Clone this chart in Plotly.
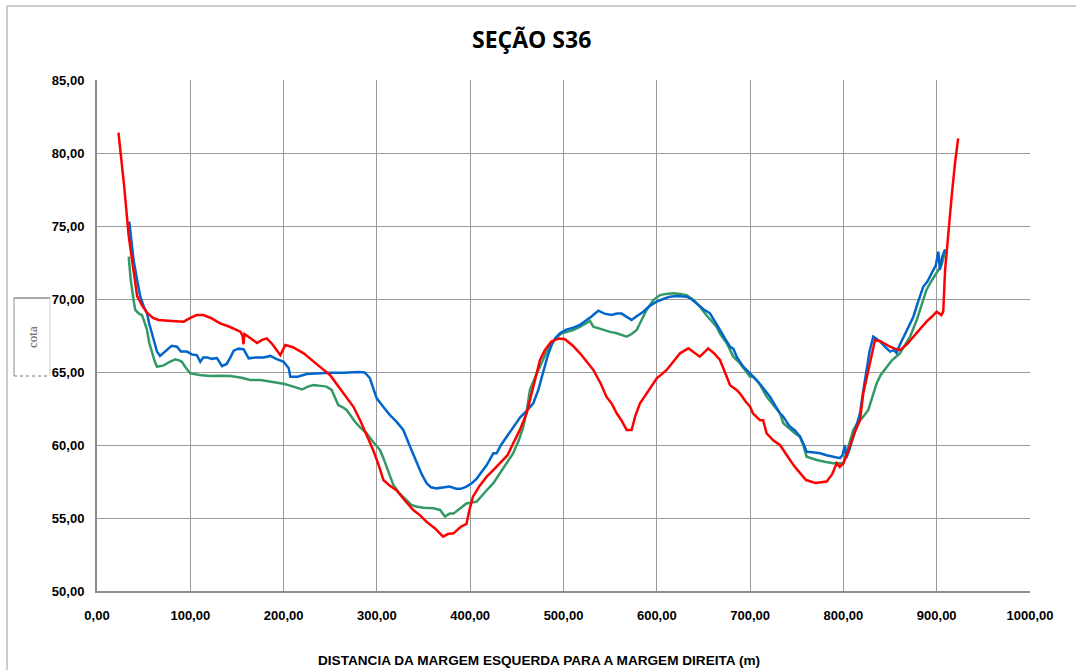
import plotly.graph_objects as go

# ---------------- data ----------------
red_x = [23, 29, 34, 38, 43, 48, 53.6, 60, 66, 80, 92.9, 100, 107, 114, 122, 132, 142, 153.6, 156, 157, 158, 165,
         171.5, 177, 182, 188, 196.5, 201.8, 210, 221.5, 232, 240, 249.7, 258, 267.6, 275, 282, 290, 296, 302, 307,
         314, 321, 330, 339, 346, 353, 362, 371, 376, 382, 390, 396, 399, 403, 410, 417.7, 425, 432, 440, 446, 453,
         460.5, 467, 474.8, 480, 487, 495, 501.6, 510, 517.7, 525, 532, 540, 546, 552, 557, 562, 567.7, 573, 577,
         582, 590, 600, 610.6, 618, 624.9, 633.8, 640, 646, 650, 655, 661, 667.7, 675, 678.5, 685.5, 689, 695, 700,
         703, 710.6, 714, 717.7, 719.5, 725, 732, 737, 742.8, 748, 753.5, 760, 770, 782, 788, 792.8, 796, 800, 805,
         809, 813, 817.8, 821.3, 825, 828.5, 833.9, 840, 845, 850, 855, 860.7, 868, 875, 882, 889, 895, 900, 905,
         907, 909, 912.5, 916, 919.6, 923]
red_y = [81.4, 77.8, 74.3, 72.3, 70.2, 69.6, 69.06, 68.7, 68.56, 68.5, 68.45, 68.7, 68.9, 68.9, 68.7, 68.33, 68.1,
         67.76, 67.5, 66.9, 67.6, 67.3, 66.99, 67.2, 67.3, 66.9, 66.16, 66.85, 66.7, 66.28, 65.7, 65.3, 64.8, 64.1,
         63.3, 62.6, 61.7, 60.6, 59.66, 58.6, 57.6, 57.2, 56.9, 56.2, 55.55, 55.2, 54.75, 54.3, 53.72, 53.9, 53.95,
         54.4, 54.6, 55.5, 56.46, 57.2, 57.83, 58.3, 58.75, 59.3, 60.1, 61.0, 62.17, 63.8, 65.82, 66.5, 67.08, 67.3,
         67.24, 66.8, 66.28, 65.7, 65.14, 64.2, 63.31, 62.8, 62.17, 61.7, 61.03, 61.03, 62.0, 62.86, 63.6, 64.57,
         65.14, 65.7, 66.28, 66.62, 66.3, 66.05, 66.3, 66.62, 66.3, 65.82, 64.68, 64.1, 63.77, 63.54, 63.0, 62.62,
         62.17, 61.7, 61.7, 60.8, 60.68, 60.3, 60.0, 59.5, 58.97, 58.5, 58.06, 57.6, 57.4, 57.5, 58.0, 58.75, 58.5,
         58.75, 59.6, 60.34, 61.0, 61.7, 63.54, 64.6, 65.6, 67.19, 67.1, 66.9, 66.73, 66.6, 66.5, 66.9, 67.42, 67.9,
         68.45, 68.8, 69.13, 68.9, 69.13, 72.0, 74.73, 77.0, 79.3, 81.0]

blue_x = [34.6, 37, 39.2, 43, 46.4, 50, 53.6, 56, 59, 62, 64.3, 67.5, 71, 75, 80, 85.7, 90, 96.5, 102, 107, 110.7,
          114, 117.9, 123, 128.6, 134, 139, 143, 146.5, 152, 157.2, 162.6, 170, 178.7, 185.8, 192, 200, 205.5,
          207.2, 215, 224.8, 235, 249.7, 265, 280, 287, 292.6, 296, 299.8, 307, 314, 321, 328.3, 335.5, 342.7, 348,
          353.3, 358, 364, 370, 377.8, 385, 390, 396, 402, 407, 412, 417.7, 424.8, 428.4, 433, 439, 446, 453.6, 460,
          467.6, 473, 478.4, 483, 487.3, 491, 496.2, 503, 510.5, 517, 524.8, 530, 537.3, 544, 551.6, 557, 562.3, 567,
          573, 578, 585.5, 592, 599.8, 607, 614, 622, 632, 637, 642.7, 650, 657, 664, 667.7, 673, 678.5, 682, 686,
          692.7, 700, 707, 714, 721.3, 726, 732, 735.6, 742, 748, 753.5, 757, 760.6, 767, 775, 782, 789, 796.3, 799,
          801.7, 803, 806, 810.6, 814, 817.8, 821, 825, 828, 832, 835, 839.3, 845, 850, 854, 857, 860, 864.4, 870,
          875, 880, 885.6, 890, 896.4, 899, 901.7, 903.5, 906, 909]
blue_y = [75.3, 73.8, 72.67, 71.3, 70.16, 69.5, 69.02, 68.3, 67.65, 66.9, 66.4, 66.1, 66.3, 66.5, 66.8, 66.73, 66.4,
          66.4, 66.2, 66.16, 65.7, 66.0, 66.0, 65.9, 65.95, 65.4, 65.55, 66.0, 66.46, 66.6, 66.55, 65.94, 66.0, 66.0,
          66.1, 65.9, 65.7, 65.25, 64.68, 64.68, 64.86, 64.9, 64.95, 64.95, 65.0, 64.97, 64.57, 63.9, 63.2, 62.6,
          62.05, 61.6, 61.03, 59.9, 58.75, 58.0, 57.38, 57.1, 57.03, 57.1, 57.15, 57.0, 57.0, 57.15, 57.4, 57.7, 58.1,
          58.63, 59.43, 59.43, 60.0, 60.57, 61.26, 61.9, 62.3, 62.86, 63.77, 65.14, 66.1, 66.85, 67.3, 67.65, 67.9,
          68.04, 68.2, 68.56, 68.8, 69.2, 69.0, 68.9, 69.0, 69.0, 68.8, 68.56, 68.8, 69.13, 69.5, 69.82, 70.0, 70.16,
          70.2, 70.16, 70.0, 69.7, 69.3, 69.02, 68.33, 67.88, 67.3, 66.73, 66.6, 66.0, 65.36, 64.9, 64.45, 63.9,
          63.31, 62.8, 62.17, 61.94, 61.3, 61.0, 60.57, 60.1, 59.54, 59.5, 59.43, 59.3, 59.2, 59.1, 59.3, 60.0, 59.1,
          59.6, 60.57, 61.3, 62.17, 63.6, 65.14, 66.4, 67.42, 67.3, 67.1, 66.7, 66.4, 66.5, 66.3, 66.8, 67.42, 68.1,
          68.79, 69.8, 70.84, 71.2, 71.99, 72.3, 73.24, 72.0, 72.9, 73.4]

green_x = [34, 36, 39.2, 41, 45, 48.2, 51, 53.6, 56, 59, 62, 64.3, 68, 71.5, 78, 84, 88, 91, 95, 100, 110, 121.5,
           132, 142.9, 155, 164.3, 175, 185.8, 192, 200, 210.5, 219.7, 226, 232, 240, 246, 251.5, 255, 258.6, 263,
           267.5, 272, 276.5, 282, 289, 296, 303.3, 307, 310.5, 314, 317.6, 324, 331.9, 337, 342.7, 350, 360.5,
           367.7, 373, 378, 382, 386, 389, 396, 407, 412, 417.7, 425, 432, 440, 446, 452, 457, 461, 464, 470, 476.6,
           482, 487.3, 493, 498, 505, 510.5, 518, 524.8, 528.4, 532, 537, 542.7, 550, 557, 562, 567.7, 573, 578.4,
           584, 589, 596.3, 603.4, 610, 617.7, 625, 632, 640, 646.3, 653, 660.6, 664, 668, 675, 682, 689, 695, 700,
           703.4, 710, 717.7, 725, 732, 735.6, 742, 748, 753.5, 757, 760.6, 771.4, 780, 789, 800, 805, 810.6, 815,
           821.3, 826.7, 831, 835.6, 840, 846.3, 852, 860.7, 866, 871.4, 878.6, 884, 889, 894, 900, 905, 909]
green_y = [72.9, 71.4, 69.93, 69.25, 69.0, 68.9, 68.4, 67.88, 67.0, 66.28, 65.7, 65.36, 65.4, 65.45, 65.7, 65.87,
           65.8, 65.7, 65.3, 64.9, 64.8, 64.73, 64.75, 64.73, 64.6, 64.45, 64.45, 64.34, 64.3, 64.2, 64.0, 63.8, 64.0,
           64.1, 64.05, 64.0, 63.77, 63.2, 62.74, 62.6, 62.4, 62.0, 61.6, 61.2, 60.8, 60.2, 59.66, 59.1, 58.51, 57.8,
           57.26, 56.7, 56.23, 55.9, 55.77, 55.7, 55.66, 55.55, 55.1, 55.3, 55.3, 55.5, 55.66, 56.0, 56.12, 56.5,
           56.9, 57.4, 58.06, 58.8, 59.43, 60.3, 61.26, 62.5, 63.77, 64.7, 65.6, 66.4, 66.97, 67.4, 67.65, 67.8,
           67.88, 68.1, 68.33, 68.5, 68.1, 68.0, 67.88, 67.75, 67.65, 67.55, 67.42, 67.6, 67.88, 68.6, 69.25, 69.93,
           70.27, 70.35, 70.39, 70.35, 70.27, 69.9, 69.47, 68.9, 68.33, 68.1, 67.6, 66.97, 66.05, 65.6, 65.1, 64.68,
           64.68, 64.2, 63.31, 62.7, 62.17, 61.49, 61.1, 60.8, 60.57, 60.0, 59.2, 58.97, 58.85, 58.75, 58.75, 59.8,
           61.03, 61.5, 61.94, 62.4, 63.3, 64.22, 64.8, 65.36, 65.8, 66.28, 66.8, 67.42, 68.56, 69.6, 70.62, 71.2,
           71.76, 72.3, 73.24]

x_ticks = [0, 100, 200, 300, 400, 500, 600, 700, 800, 900, 1000]
y_ticks = [50, 55, 60, 65, 70, 75, 80, 85]

title_text = "SEÇÃO S36"
x_title = "DISTANCIA DA MARGEM ESQUERDA PARA A MARGEM DIREITA (m)"
y_title = "cota"

# ---------------- layout geometry (pixels) ----------------
W, H = 1076, 670
L, R, T, B = 97, 46, 80, 79
PW, PH = W - L - R, H - T - B


def px(xp):
    return (xp - L) / PW


def py(yp):
    return (H - B - yp) / PH


fig = go.Figure()
for xs, ys, col in [(green_x, green_y, "#339966"), (blue_x, blue_y, "#0066CC"), (red_x, red_y, "#FF0000")]:
    fig.add_trace(go.Scatter(x=xs, y=ys, mode="lines", line=dict(color=col, width=2.5), hoverinfo="x+y"))

tickfont = dict(family="Liberation Sans, Arial, sans-serif", size=13, color="#000000", weight="bold")

fig.update_layout(
    width=W, height=H,
    margin=dict(l=L, r=R, t=T, b=B),
    paper_bgcolor="white", plot_bgcolor="white",
    showlegend=False,
    separators=",.",
    xaxis=dict(range=[0, 1000], tickvals=x_ticks, tickformat=".2f", showgrid=True, gridcolor="#9a9a9a",
               gridwidth=1, zeroline=False, showline=True, linecolor="#8c8c8c", linewidth=2, ticks="",
               tickfont=tickfont, ticklabelstandoff=11),
    yaxis=dict(range=[50, 85], tickvals=y_ticks, tickformat=".2f", showgrid=True, gridcolor="#9a9a9a",
               gridwidth=1, zeroline=False, showline=True, linecolor="#8c8c8c", linewidth=2, ticks="",
               tickfont=tickfont, ticklabelstandoff=8),
    annotations=[
        dict(text="<b>" + title_text + "</b>", x=px(531), y=py(39), xref="paper", yref="paper",
             showarrow=False, xanchor="center", yanchor="middle",
             font=dict(family="Open Sans, sans-serif", size=23, color="#000000")),
        dict(text="<b>" + x_title + "</b>", x=px(539), y=py(660), xref="paper", yref="paper",
             showarrow=False, xanchor="center", yanchor="middle",
             font=dict(family="Liberation Sans, Arial, sans-serif", size=13.6, color="#000000")),
        dict(text=y_title, x=px(32), y=py(337), xref="paper", yref="paper", textangle=-90,
             showarrow=False, xanchor="center", yanchor="middle",
             font=dict(family="Liberation Serif, Times New Roman, serif", size=13, color="#555555")),
    ],
    shapes=[
        # outer chart border
        dict(type="line", xref="paper", yref="paper", x0=px(7), x1=px(1076), y0=py(6), y1=py(6),
             line=dict(color="#9a9a9a", width=1)),
        dict(type="line", xref="paper", yref="paper", x0=px(7), x1=px(7), y0=py(6), y1=py(670),
             line=dict(color="#9a9a9a", width=1)),
        # "cota" box
        dict(type="line", xref="paper", yref="paper", x0=px(14), x1=px(50), y0=py(298), y1=py(298),
             line=dict(color="#555555", width=1)),
        dict(type="line", xref="paper", yref="paper", x0=px(14), x1=px(14), y0=py(298), y1=py(376),
             line=dict(color="#888888", width=1)),
        dict(type="line", xref="paper", yref="paper", x0=px(50), x1=px(50), y0=py(298), y1=py(376),
             line=dict(color="#cccccc", width=1)),
        dict(type="line", xref="paper", yref="paper", x0=px(14), x1=px(50), y0=py(376), y1=py(376),
             line=dict(color="#777777", width=1, dash="dot")),
    ],
)

fig.write_html("out.html")
